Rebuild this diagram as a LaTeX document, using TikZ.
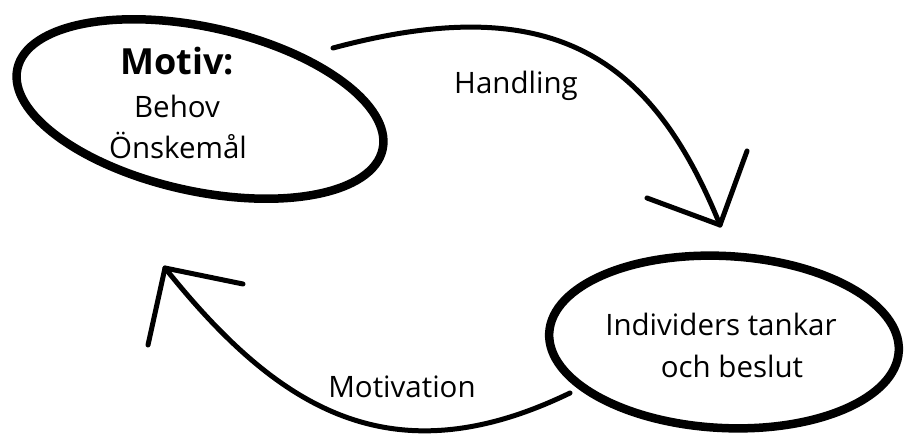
\documentclass[tikz,border=0pt]{standalone}
\usepackage{fontspec}
\setmainfont{Open Sans}
\usetikzlibrary{shapes.geometric}
\tikzset{
  bubble/.style={draw=black, ellipse, line width=8.5pt, inner sep=0pt, outer sep=0pt},
  lbl/.style={anchor=base, inner sep=0pt, font=\fontsize{29.5}{34}\selectfont},
  conn/.style={line width=5pt, line cap=round, line join=round},
}
\begin{document}
\begin{tikzpicture}[x=1pt,y=-1pt]
\useasboundingbox (0,0) rectangle (905,434);
% ellipses
\node[bubble, minimum width=374pt, minimum height=164pt, rotate=-12.5] (motivE) at (200,109) {};
\node[bubble, minimum width=350pt, minimum height=172pt, rotate=-3] (indE) at (724,342) {};
% texts
\node[lbl, font=\bfseries\fontsize{36}{40}\selectfont] (motiv) at (177,74) {Motiv:};
\node[lbl] (behov) at (177,117) {Behov};
\node[lbl] (onsk) at (178,158) {Önskemål};
\node[lbl] (ind1) at (721,335) {Individers tankar};
\node[lbl] (ind2) at (732,377) {och beslut};
\node[lbl] (hand) at (516,93) {Handling};
\node[lbl] (motivation) at (402,397) {Motivation};
% top arrow
\coordinate (a1s) at (333,48);
\coordinate (a1t) at (720,225);
\coordinate (a1l) at (647,198);
\coordinate (a1r) at (747,151);
\draw[conn] (a1s) .. controls (553,-11) and (652,57) .. (a1t);
\draw[conn] (a1l) -- (a1t) -- (a1r);
% bottom arrow
\coordinate (a2s) at (570,393);
\coordinate (a2t) at (165,268);
\coordinate (a2l) at (243,284);
\coordinate (a2r) at (148,345);
\draw[conn] (a2s) .. controls (390,480) and (277,408) .. (a2t);
\draw[conn] (a2l) -- (a2t) -- (a2r);
\end{tikzpicture}
\end{document}
